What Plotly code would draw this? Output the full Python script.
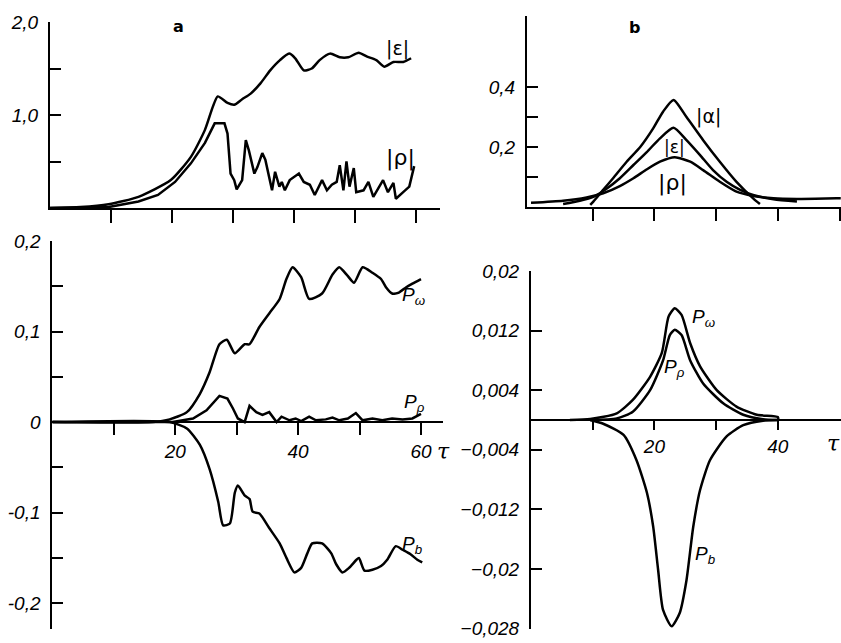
import plotly.graph_objects as go

# ---------------- data ----------------
# panel a, top: |eps| and |rho| versus tau
a_eps_t = [0, 5, 9.6, 14.5, 19.8, 23.1, 25.4, 26.7, 27.5, 29.1, 30.2, 31.5, 32.9, 34.5, 36.1, 37.7,
           39.2, 40.2, 41.6, 42.9, 44.2, 45.9, 47.5, 48.9, 50.6, 51.9, 53.5, 54.8, 56.3, 57.9, 59.2]
a_eps = [0, 0.01, 0.04, 0.12, 0.3, 0.55, 0.84, 1.09, 1.2, 1.13, 1.11, 1.17, 1.23, 1.34, 1.48, 1.59,
         1.66, 1.61, 1.48, 1.5, 1.59, 1.66, 1.62, 1.62, 1.67, 1.63, 1.59, 1.52, 1.57, 1.57, 1.61]

a_rho_t = [0, 9.6, 14.5, 17.7, 20.5, 23.1, 25.4, 27, 28.6, 29.1, 29.6, 30.2, 30.6, 31.5, 32.1,
           32.6, 33.5, 34, 34.8, 35.3, 35.9, 36.4, 36.9, 37.6, 38, 38.5, 39.3, 40.8, 41.6, 42.6,
           43.4, 44.6, 45.4, 46.2, 47, 47.5, 48.1, 48.6, 49.1, 49.8, 50.2, 51.4, 52.2, 53, 54.6,
           55.4, 56.3, 56.7, 57.9, 58.9, 59.7]
a_rho = [0, 0.01, 0.07, 0.14, 0.28, 0.48, 0.7, 0.91, 0.91, 0.8, 0.37, 0.3, 0.2, 0.3, 0.73,
         0.62, 0.37, 0.44, 0.59, 0.52, 0.34, 0.19, 0.39, 0.23, 0.28, 0.19, 0.3, 0.37, 0.28, 0.25,
         0.14, 0.3, 0.19, 0.25, 0.28, 0.46, 0.19, 0.5, 0.23, 0.43, 0.17, 0.19, 0.28, 0.12, 0.3,
         0.17, 0.27, 0.1, 0.17, 0.23, 0.45]

# panel a, bottom: P_w, P_rho, P_b
a_pw_t = [0, 16.4, 19.1, 21.9, 24, 25.6, 27.2, 28.4, 29.7, 31.3, 32.1, 33.7, 35.3, 37, 38.1, 39.1,
          40.5, 41.8, 43.9, 45.6, 46.7, 48, 49.1, 50.5, 52.1, 53.5, 54.3, 55.3, 56.4, 57.6, 58.6, 60]
a_pw = [0, 0, 0.003, 0.011, 0.031, 0.055, 0.086, 0.091, 0.076, 0.086, 0.086, 0.105, 0.12, 0.136,
        0.158, 0.171, 0.16, 0.136, 0.142, 0.163, 0.171, 0.162, 0.154, 0.171, 0.165, 0.158, 0.149,
        0.142, 0.143, 0.149, 0.153, 0.158]

a_pr_t = [0, 19.6, 22.9, 25.1, 27.2, 28.5, 29.4, 30.2, 31.3, 32.1, 33.2, 34.2, 35.3, 36.5, 37.3,
          38.6, 39.6, 40.5, 41.8, 42.9, 44.5, 45.6, 46.7, 48.1, 49.4, 50.5, 52.1, 53.7, 55.3, 57,
          58.6, 60]
a_pr = [0, 0, 0.004, 0.013, 0.029, 0.026, 0.015, 0.004, 0, 0.018, 0.011, 0.008, 0.011, 0, 0.006,
        0.002, 0.004, 0.001, 0.006, 0.002, 0.003, 0.005, 0.002, 0.004, 0.01, 0.002, 0.004, 0.002,
        0.004, 0.003, 0.004, 0.009]

a_pb_t = [0, 19.1, 21.9, 24, 25.6, 27, 27.8, 28.9, 29.7, 30.2, 31.3, 32.1, 32.6, 33.7, 35.3, 37,
          38.1, 39.4, 40.5, 41.5, 42.3, 43.9, 45.4, 46.2, 47.2, 48.3, 49.5, 49.9, 50.8, 52.1, 53.5,
          54.5, 55.9, 57, 58.3, 59.4, 60.2]
a_pb = [0, 0, -0.007, -0.025, -0.052, -0.088, -0.114, -0.112, -0.078, -0.07, -0.081, -0.085,
        -0.099, -0.101, -0.117, -0.134, -0.15, -0.166, -0.161, -0.145, -0.134, -0.134, -0.145,
        -0.157, -0.166, -0.161, -0.152, -0.15, -0.164, -0.163, -0.159, -0.152, -0.137, -0.141,
        -0.146, -0.152, -0.155]

# panel b, top: |alpha|, |eps|, |rho|
b_alpha_t = [9.6, 10.1, 11.7, 13.3, 15.5, 17.7, 19.8, 21.4, 23.1, 25.2, 27.9, 30.6, 33.3, 36.0, 37.1]
b_alpha = [0.007, 0.018, 0.057, 0.096, 0.151, 0.2, 0.262, 0.318, 0.357, 0.30, 0.223, 0.151, 0.084,
           0.029, 0.01]

b_eps_t = [5.2, 7.9, 10.1, 12.3, 14.4, 16.6, 18.8, 20.9, 23.1, 25.2, 27.4, 29.5, 31.7, 33.9, 36.0,
           39.3, 43.1]
b_eps = [0.01, 0.021, 0.034, 0.062, 0.096, 0.14, 0.184, 0.229, 0.264, 0.223, 0.173, 0.123, 0.084,
         0.057, 0.04, 0.026, 0.018]

b_rho_t = [0, 5.2, 9.0, 11.7, 14.4, 16.6, 18.8, 20.9, 23.3, 25.8, 27.9, 30.6, 33.3, 36.0, 39.3,
           43.1, 49.5, 50.2]
b_rho = [0.014, 0.021, 0.032, 0.046, 0.07, 0.096, 0.126, 0.151, 0.166, 0.151, 0.123, 0.084, 0.051,
         0.037, 0.029, 0.027, 0.029, 0.029]

# panel b, bottom: P_w, P_rho, P_b
b_pw_t = [6.3, 9.6, 13.9, 16.5, 19.3, 21.2, 22.3, 23.3, 24.4, 25.8, 27.4, 30.1, 33.3, 36.6, 40.0, 40.1]
b_pw = [0, 0.00013, 0.0009, 0.0027, 0.0058, 0.009, 0.0139, 0.015, 0.0141, 0.0103, 0.0072, 0.004,
        0.0018, 0.0007, 0.0004, 0]

b_pr_t = [9.6, 13.9, 16.5, 19.3, 21.4, 22.5, 23.3, 24.4, 25.8, 27.9, 31.2, 34.4, 37.6, 40]
b_pr = [0, 0.0002, 0.0011, 0.004, 0.008, 0.0114, 0.0121, 0.0114, 0.008, 0.0049, 0.0022, 0.0007,
        0.0001, 0]

b_pb_t = [9.6, 11.7, 15.0, 17.1, 18.8, 19.8, 20.6, 21.4, 22.8, 24.1, 25.2, 26.3, 27.4, 29.0, 31.7,
          34.4, 37.6, 40]
b_pb = [0, -0.0005, -0.002, -0.0054, -0.0098, -0.0143, -0.0201, -0.0255, -0.0277, -0.0259,
        -0.0215, -0.0143, -0.0094, -0.0054, -0.0022, -0.0007, -0.0001, 0]

# tick labels
a_top_yticks = [0.5, 1.0, 1.5, 2.0]
a_top_ytext = ["", "1,0", "", "2,0"]
a_bot_yticks = [-0.2, -0.15, -0.1, -0.05, 0, 0.05, 0.1, 0.15, 0.2]
a_bot_ytext = ["-0,2", "", "-0,1", "", "0", "", "0,1", "", "0,2"]
a_xticks = [10, 20, 30, 40, 50, 60]
a_bot_xtext = ["", "20", "", "40", "", "60"]
b_top_yticks = [0.1, 0.2, 0.3, 0.4]
b_top_ytext = ["", "0,2", "", "0,4"]
b_bot_yticks = [-0.028, -0.02, -0.012, -0.004, 0.004, 0.012, 0.02]
b_bot_ytext = ["\u22120,028", "\u22120,02", "\u22120,012", "\u22120,004", "0,004", "0,012", "0,02"]
b_top_xticks = [10, 20, 30, 40, 50]
b_bot_xticks = [10, 20, 30, 40]
b_bot_xtext = ["", "20", "", "40"]

# ---------------- figure ----------------
W, H = 841, 643


def fx(px):
    return px / W


def fy(py):
    return 1 - py / H


fig = go.Figure()


def add(t, v, xa, ya, smooth=True):
    ln = dict(color="black", width=2.5)
    if smooth:
        ln.update(shape="spline", smoothing=0.6)
    fig.add_trace(go.Scatter(x=t, y=v, xaxis=xa, yaxis=ya, mode="lines", line=ln,
                             showlegend=False, hoverinfo="skip"))


add(a_eps_t, a_eps, "x", "y")
add(a_rho_t, a_rho, "x", "y", smooth=False)
add(a_pw_t, a_pw, "x2", "y2")
add(a_pr_t, a_pr, "x2", "y2", smooth=False)
add(a_pb_t, a_pb, "x2", "y2")
add(b_alpha_t, b_alpha, "x3", "y3")
add(b_eps_t, b_eps, "x3", "y3")
add(b_rho_t, b_rho, "x3", "y3")
add(b_pw_t, b_pw, "x4", "y4")
add(b_pr_t, b_pr, "x4", "y4")
add(b_pb_t, b_pb, "x4", "y4")

tickfont = dict(family="Liberation Sans", size=19, color="black", style="italic")
base = dict(showline=True, linewidth=2, linecolor="black", showgrid=False, zeroline=False,
            tickwidth=2, tickcolor="black", tickfont=tickfont, fixedrange=True,
            automargin=False)

fig.update_layout(
    width=W, height=H, margin=dict(l=0, r=0, t=0, b=0, autoexpand=False),
    plot_bgcolor="white", paper_bgcolor="white",
    xaxis=dict(base, domain=[fx(50), fx(440)], range=[0, (440 - 50) / 6.1], anchor="y",
               ticks="outside", ticklen=13, tickvals=a_xticks, showticklabels=False),
    yaxis=dict(base, domain=[fy(208), fy(22)], range=[0, 2.0], anchor="x",
               ticks="inside", ticklen=11, tickvals=a_top_yticks, ticktext=a_top_ytext,
               ticklabelstandoff=6),
    xaxis2=dict(base, domain=[fx(52.3), fx(443)], range=[0, (443 - 52.3) / 6.145],
                anchor="free", position=fy(422), ticks="outside", ticklen=12,
                tickvals=a_xticks, ticktext=a_bot_xtext),
    yaxis2=dict(base, domain=[fy(629), fy(241)], range=[-0.2285, 0.2], anchor="x2",
                ticks="inside", ticklen=11, tickvals=a_bot_yticks, ticktext=a_bot_ytext,
                ticklabelstandoff=6),
    xaxis3=dict(base, domain=[fx(527), 1.0], range=[-0.65, 50.24], anchor="y3",
                ticks="outside", ticklen=12, tickvals=b_top_xticks, showticklabels=False),
    yaxis3=dict(base, domain=[fy(207), fy(16)], range=[0, 0.637], anchor="x3",
                ticks="inside", ticklen=11, tickvals=b_top_yticks, ticktext=b_top_ytext,
                ticklabelstandoff=6),
    xaxis4=dict(base, domain=[fx(531), 1.0], range=[0, 50.24], anchor="free",
                position=fy(420), ticks="outside", ticklen=9,
                tickvals=b_bot_xticks, ticktext=b_bot_xtext),
    yaxis4=dict(base, domain=[fy(628.6), fy(271)], range=[-0.028, 0.02], anchor="x4",
                ticks="inside", ticklen=11, tickvals=b_bot_yticks, ticktext=b_bot_ytext,
                ticklabelstandoff=6),
)

lab = dict(family="DejaVu Sans", size=19, color="black")
plab = dict(family="Liberation Sans", size=19, color="black", style="italic")
ann = [
    dict(text="<b>a</b>", x=21, y=1.95, xref="x", yref="y", font=dict(lab, size=16)),
    dict(text="|ε|", x=56.9, y=1.72, xref="x", yref="y", font=lab),
    dict(text="|ρ|", x=57.4, y=0.54, xref="x", yref="y", font=dict(lab, size=22)),
    dict(text="P<sub>ω</sub>", x=58.7, y=0.139, xref="x2", yref="y2", font=plab),
    dict(text="P<sub>ρ</sub>", x=59.0, y=0.021, xref="x2", yref="y2", font=plab),
    dict(text="P<sub>b</sub>", x=58.5, y=-0.136, xref="x2", yref="y2", font=plab),
    dict(text="τ", x=fx(443), y=fy(452), xref="paper", yref="paper",
         font=dict(family="DejaVu Serif", size=22, color="black", style="italic")),
    dict(text="<b>b</b>", x=16.7, y=0.6, xref="x3", yref="y3", font=dict(lab, size=16)),
    dict(text="|α|", x=28.8, y=0.303, xref="x3", yref="y3", font=lab),
    dict(text="|ε|", x=23.2, y=0.2, xref="x3", yref="y3", font=dict(lab, size=17)),
    dict(text="|ρ|", x=22.9, y=0.08, xref="x3", yref="y3", font=dict(lab, size=22)),
    dict(text="P<sub>ω</sub>", x=27.9, y=0.0137, xref="x4", yref="y4", font=plab),
    dict(text="P<sub>ρ</sub>", x=23.3, y=0.007, xref="x4", yref="y4", font=plab),
    dict(text="P<sub>b</sub>", x=28.2, y=-0.0181, xref="x4", yref="y4", font=plab),
    dict(text="τ", x=fx(833), y=fy(443), xref="paper", yref="paper",
         font=dict(family="DejaVu Serif", size=22, color="black", style="italic")),
]
for a in ann:
    a.update(showarrow=False, xanchor="center", yanchor="middle")
fig.update_layout(annotations=ann)

fig.write_html("out.html", config={"displayModeBar": False},
               post_script="document.body.style.margin='0px';"
                           "document.body.style.overflow='hidden';")
